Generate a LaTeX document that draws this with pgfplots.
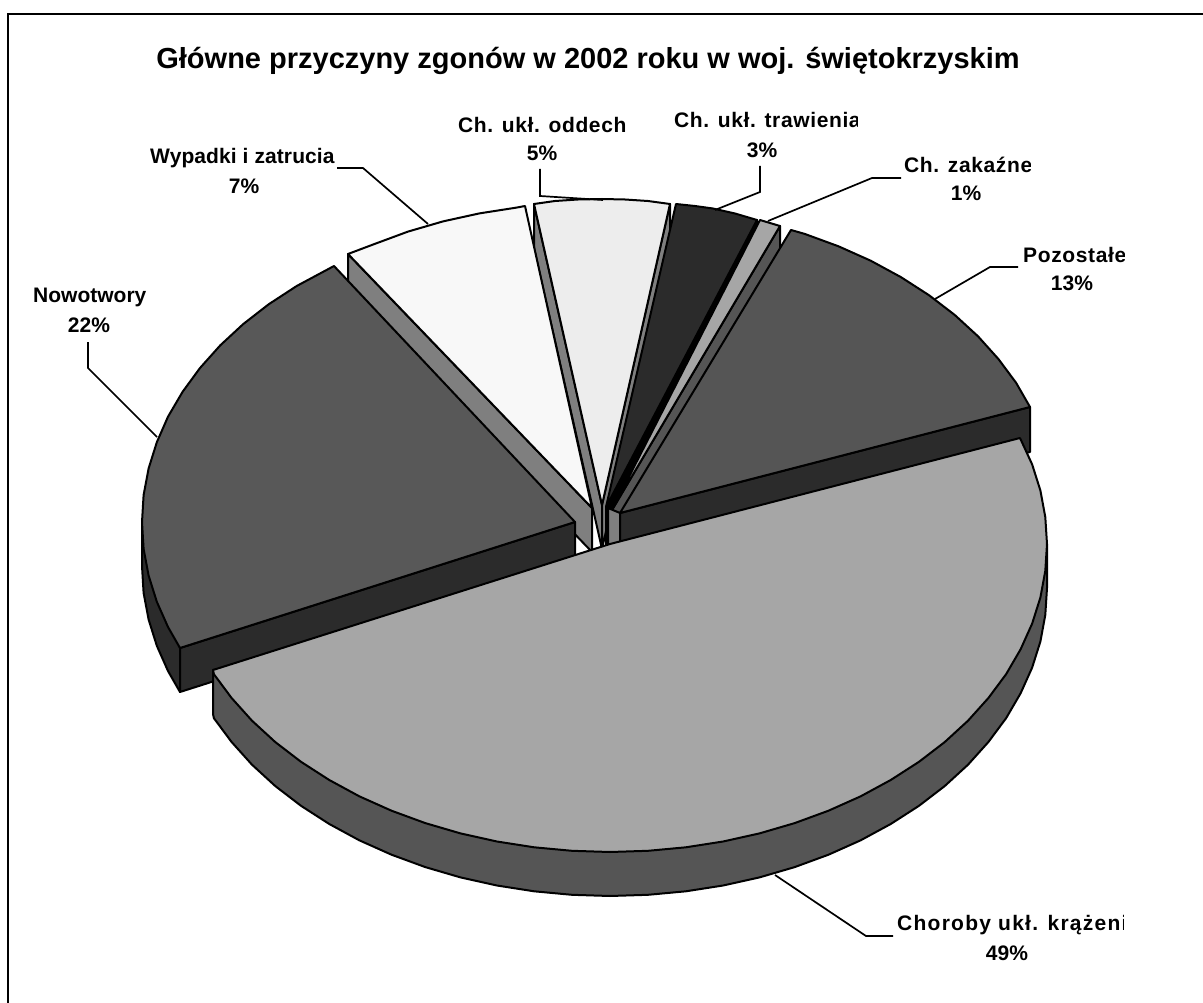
\documentclass[border=0pt]{standalone}
\usepackage{pgfplots}
\pgfplotsset{compat=1.18}
\usepackage{fontspec}
\setmainfont{Liberation Sans}
\definecolor{cWyp}{HTML}{F8F8F8}
\definecolor{cOdd}{HTML}{EDEDED}
\definecolor{cDark}{HTML}{2B2B2B}
\definecolor{cLight}{HTML}{A6A6A6}
\definecolor{cMid}{HTML}{555555}
\definecolor{cNow}{HTML}{585858}
\definecolor{cBand}{HTML}{7F7F7F}
\newcommand{\lab}{\fontsize{21}{21}\selectfont\bfseries}
\newcommand{\ls}[1]{\addfontfeature{LetterSpace=#1}}
\begin{document}
\begin{tikzpicture}
\path[use as bounding box] (0,0) rectangle (1203pt,1003pt);
\begin{axis}[
  at={(0,0)},anchor=south west,
  scale only axis,width=1203pt,height=1003pt,
  xmin=0,xmax=1203,ymin=0,ymax=1003,y dir=reverse,
  hide axis,clip=false,
  outline/.style={draw=black,line width=2pt,line join=round},
  leader/.style={draw=black,line width=1.7pt,no markers},
  every axis plot/.append style={no markers}]
% frame
\addplot[draw=black,line width=2.2pt] coordinates {(8,1003)(8,14)(1203,14)};
% Ch. ukl. oddech - cut faces
\addplot[outline,fill=cBand] coordinates {(534,204)(602,505)(602,549)(534,248)} --cycle;
\addplot[outline,fill=cBand] coordinates {(670,204)(602,505)(602,549)(670,248)} --cycle;
% Wypadki i zatrucia
\addplot[outline,fill=cBand] coordinates {(348,254)(592,508)(592,552)(348,298)} --cycle;
\addplot[outline,fill=cWyp] coordinates {(592,508)(348,254)(374.5,244)(408,231.6)(443,221.4)(479.4,213.4)(516.5,207.6)(525,206)} --cycle;
% Ch. ukl. oddech - top
\addplot[outline,fill=cOdd] coordinates {(602,505)(534,204)(555,201)(578,199.5)(602,199)(625,199.5)(648,201)(670,204)} --cycle;
% Ch. ukl. trawienia
\addplot[outline,fill=black] coordinates {(757,220)(606,507)(606,551)(757,264)} --cycle;
\addplot[outline,fill=cDark] coordinates {(606,507)(676,204)(695,206)(713,208.5)(735,213.5)(757,220)} --cycle;
% Ch. zakazne
\addplot[outline,fill=cMid] coordinates {(780,226)(612,510)(612,554)(780,270)} --cycle;
\addplot[outline,fill=cLight] coordinates {(612,510)(760,220)(780,226)} --cycle;
% Pozostale
\addplot[outline,fill=cBand] coordinates {(608,508)(620,513)(620,557)(608,552)} --cycle;
\addplot[outline,fill=cDark] coordinates {(620,513)(1030,407)(1030,452)(620,557)} --cycle;
\addplot[outline,fill=cMid] coordinates {(620,513)(791,230)(804.7,233.9)(838.5,246.3)(870.7,260.7)(900.9,277.1)(929,295.2)(954.8,315)(978,336.3)(998.4,359)(1016.1,382.8)(1030,407)} --cycle;
% Nowotwory
\addplot[outline,fill=cDark] coordinates {(180,648)(142,522)(142,566)(143.6,592.9)(148.6,619.5)(156.8,645.7)(168,671)(180,692)} --cycle;
\addplot[outline,fill=cDark] coordinates {(180,648)(575,522)(575,566)(180,692)} --cycle;
\addplot[outline,fill=cNow] coordinates {(575,522)(180,648)(168,627)(156.8,601.7)(148.6,575.5)(143.6,548.9)(142,522)(143.6,495.1)(148.6,468.5)(156.8,442.3)(168,416.7)(182.6,391.8)(200,368)(220.3,345.3)(243.3,324)(268.8,304.2)(296.7,286)(334,266)} --cycle;
% Choroby ukl. krazenia
\addplot[outline,fill=cMid] coordinates {(1047,544)(213,670)(213,714)(213.9,718.2)(231.6,742)(252,764.7)(275.2,786)(301,805.8)(329.1,823.9)(359.3,840.3)(391.5,854.7)(425.3,867.1)(460.5,877.4)(496.9,885.5)(534.1,891.3)(571.9,894.8)(610,896)(648.1,894.8)(685.9,891.3)(723.1,885.5)(759.5,877.4)(794.7,867.1)(828.5,854.7)(860.7,840.3)(890.9,823.9)(919,805.8)(944.8,786)(968,764.7)(988.4,742)(1006.1,718.2)(1020.6,693.3)(1032.1,667.7)(1040.4,641.5)(1045.3,614.9)(1047,588)} --cycle;
\addplot[outline,fill=cLight] coordinates {(610,544)(1020,438)(1032.1,464.3)(1040.4,490.5)(1045.3,517.1)(1047,544)(1045.3,570.9)(1040.4,597.5)(1032.1,623.7)(1020.6,649.3)(1006.1,674.2)(988.4,698)(968,720.7)(944.8,742)(919,761.8)(890.9,779.9)(860.7,796.3)(828.5,810.7)(794.7,823.1)(759.5,833.4)(723.1,841.5)(685.9,847.3)(648.1,850.8)(610,852)(571.9,850.8)(534.1,847.3)(496.9,841.5)(460.5,833.4)(425.3,823.1)(391.5,810.7)(359.3,796.3)(329.1,779.9)(301,761.8)(275.2,742)(252,720.7)(231.6,698)(213.9,674.2)(213,670)} --cycle;
% leaders
\addplot[leader] coordinates {(337,168)(363,168)(428,224)};
\addplot[leader] coordinates {(540,169)(540,196)(603,200)};
\addplot[leader] coordinates {(760,166)(760,192)(715,210)};
\addplot[leader] coordinates {(901,178)(872,178)(768,221)};
\addplot[leader] coordinates {(1018,267)(990,267)(935,299)};
\addplot[leader] coordinates {(88,342)(88,368)(157,437)};
\addplot[leader] coordinates {(893,936)(866,936)(775,875)};
% texts
\node[anchor=center,font=\fontsize{29}{29}\selectfont\bfseries] at (axis cs:588,61) {Główne przyczyny zgonów w 2002 roku w woj. świętokrzyskim};
\node[anchor=west,inner sep=0pt,font=\lab] at (axis cs:150,158) {\ls{0.5}Wypadki i zatrucia};
\node[anchor=center,font=\lab] at (axis cs:244,186) {7\%};
\node[anchor=west,inner sep=0pt,font=\lab] at (axis cs:458,125) {\ls{3}Ch. ukł. oddech};
\node[anchor=center,font=\lab] at (axis cs:542,153) {5\%};
\node[anchor=west,inner sep=0pt,font=\lab] at (axis cs:674,120) {\ls{3}Ch. ukł. trawienia};
\node[anchor=center,font=\lab] at (axis cs:762,150) {3\%};
\node[anchor=west,inner sep=0pt,font=\lab] at (axis cs:904,165) {\ls{3}Ch. zakaźne};
\node[anchor=center,font=\lab] at (axis cs:966,193) {1\%};
\node[anchor=west,inner sep=0pt,font=\lab] at (axis cs:1023,255) {\ls{3}Pozostałe};
\node[anchor=center,font=\lab] at (axis cs:1072,283) {13\%};
\node[anchor=west,inner sep=0pt,font=\lab] at (axis cs:33,297) {Nowotwory};
\node[anchor=center,font=\lab] at (axis cs:89,325) {22\%};
\node[anchor=west,inner sep=0pt,font=\lab] at (axis cs:897,925) {\ls{6}Choroby ukł. krążenia};
\node[anchor=center,font=\lab] at (axis cs:1007,953) {49\%};
% the reference cuts these labels off
\fill[white] (axis cs:858,105) rectangle (axis cs:900,135);
\fill[white] (axis cs:1031,150) rectangle (axis cs:1060,180);
\fill[white] (axis cs:1125,240) rectangle (axis cs:1160,270);
\fill[white] (axis cs:1124,910) rectangle (axis cs:1170,942);
\end{axis}
\end{tikzpicture}
\end{document}
